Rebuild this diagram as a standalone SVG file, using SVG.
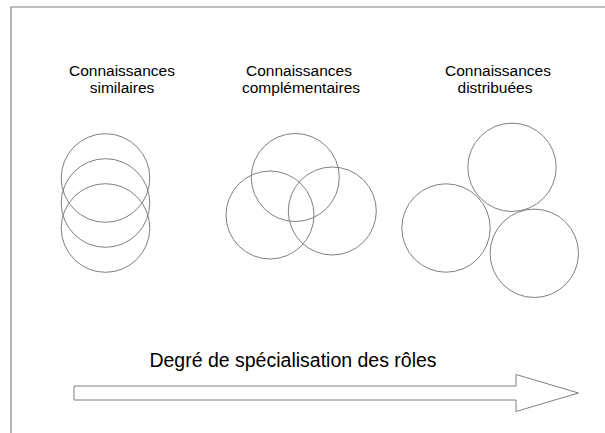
<svg xmlns="http://www.w3.org/2000/svg" width="605" height="433" viewBox="0 0 605 433">
<style>
.t{font-family:"Liberation Sans",Arial,sans-serif;fill:#000;text-anchor:middle}
.c{fill:none;stroke:#808080;stroke-width:1}
.b{fill:none;stroke:#808080;stroke-width:1.2}
</style>
<rect width="605" height="433" fill="#fff"/>
<polyline class="b" points="11,433 11,7 605,7"/>
<g id="similaires">
<text class="t" font-size="15.5" x="122" y="76">Connaissances</text>
<text class="t" font-size="15.5" x="122" y="93">similaires</text>
<circle class="c" cx="105.5" cy="178" r="44.3"/>
<circle class="c" cx="105.5" cy="203" r="44.3"/>
<circle class="c" cx="105.5" cy="228" r="44.3"/>
</g>
<g id="complementaires">
<text class="t" font-size="15.5" x="299" y="76">Connaissances</text>
<text class="t" font-size="15.5" x="301" y="93">complémentaires</text>
<circle class="c" cx="295.3" cy="177.5" r="44"/>
<circle class="c" cx="270" cy="215" r="44"/>
<circle class="c" cx="332.3" cy="211" r="44"/>
</g>
<g id="distribuees">
<text class="t" font-size="15.5" x="498" y="76">Connaissances</text>
<text class="t" font-size="15.5" x="495" y="93">distribuées</text>
<circle class="c" cx="512" cy="167.3" r="44.2"/>
<circle class="c" cx="446" cy="228" r="44.2"/>
<circle class="c" cx="534.3" cy="253.3" r="44.2"/>
</g>
<g id="arrow">
<text class="t" font-size="19.5" x="293" y="367">Degré de spécialisation des rôles</text>
<polygon class="c" points="74,386 516,386 516,374.5 578.5,393 516,411.5 516,400 74,400"/>
</g>
</svg>
